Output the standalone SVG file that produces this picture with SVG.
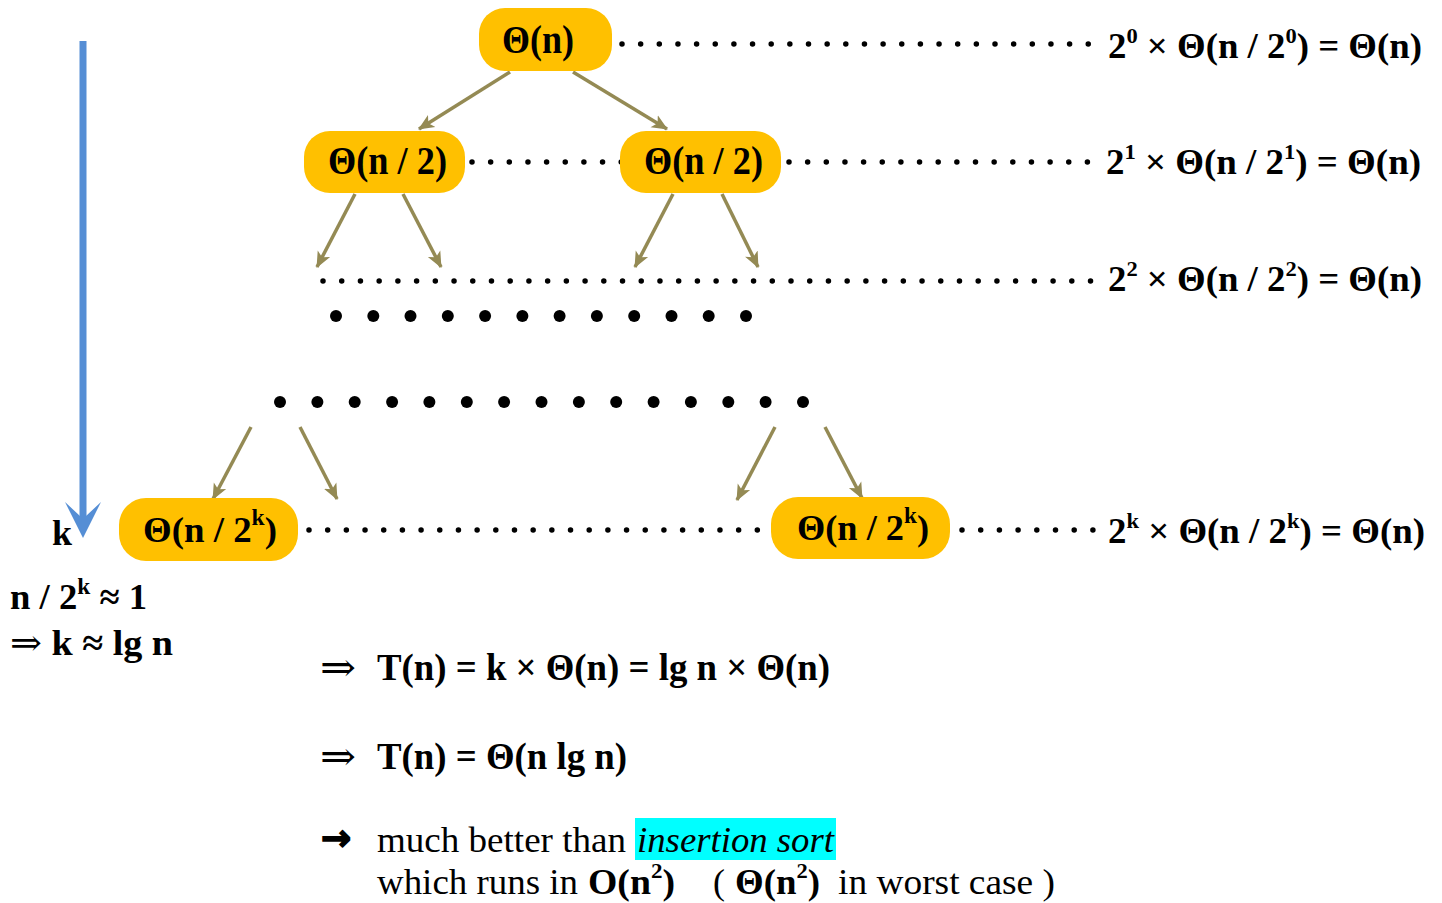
<svg xmlns="http://www.w3.org/2000/svg" width="1442" height="903" viewBox="0 0 1442 903">
<style>
.node rect { fill:#FFC000; }
.t { font-family:"Liberation Serif","DejaVu Serif",serif; font-weight:bold; fill:#000; }
.r { font-family:"Liberation Serif","DejaVu Serif",serif; font-weight:normal; fill:#000; }
.dots { stroke:#000; stroke-width:5.5; stroke-linecap:round; fill:none; stroke-dasharray:0 18.65; }
.edge { stroke:#948A54; stroke-width:3.5; fill:none; marker-end:url(#ah); }
.big { fill:#000; }
</style>
<defs>
<marker id="ah" markerUnits="userSpaceOnUse" viewBox="0 0 16 16" markerWidth="16" markerHeight="16" refX="15" refY="8" orient="auto">
<path d="M0,1 L16,8 L0,15 L4,8 z" fill="#948A54"/>
</marker>
</defs>
<rect width="1442" height="903" fill="#fff"/>

<g id="connectors">
<line class="dots" x1="622" y1="44" x2="1088.5" y2="44"/>
<line class="dots" x1="472" y1="162" x2="621.5" y2="162"/>
<line class="dots" x1="789" y1="162" x2="1088.5" y2="162"/>
<line class="dots" x1="323" y1="281" x2="1091.5" y2="281" style="stroke-dasharray:0 18.72"/>
<line class="dots" x1="309" y1="530" x2="757.5" y2="530" style="stroke-dasharray:0 18.68"/>
<line class="dots" x1="962" y1="530" x2="1093.5" y2="530" style="stroke-dasharray:0 18.7"/>
<path class="edge" d="M510,72 L419,129"/>
<path class="edge" d="M573,72 L667,129"/>
<path class="edge" d="M355,194 L317,267"/>
<path class="edge" d="M403,194 L441,267"/>
<path class="edge" d="M673,194 L635,267"/>
<path class="edge" d="M722,194 L758,267"/>
<path class="edge" d="M251,427 L213,499"/>
<path class="edge" d="M300,427 L337,499"/>
<path class="edge" d="M775,427 L737,500"/>
<path class="edge" d="M825,427 L862,498"/>
<rect x="79.5" y="41" width="7" height="478" fill="#558ED5"/>
<polygon points="83,538 65,502 80,516 86,516 101,502" fill="#558ED5"/>
</g>

<g id="dots-level3">
<circle class="big" cx="336" cy="316" r="6"/><circle class="big" cx="373.3" cy="316" r="6"/><circle class="big" cx="410.5" cy="316" r="6"/><circle class="big" cx="447.8" cy="316" r="6"/><circle class="big" cx="485.1" cy="316" r="6"/><circle class="big" cx="522.4" cy="316" r="6"/><circle class="big" cx="559.6" cy="316" r="6"/><circle class="big" cx="596.9" cy="316" r="6"/><circle class="big" cx="634.2" cy="316" r="6"/><circle class="big" cx="671.5" cy="316" r="6"/><circle class="big" cx="708.7" cy="316" r="6"/><circle class="big" cx="746" cy="316" r="6"/>
</g>
<g id="dots-level4">
<circle class="big" cx="280" cy="402" r="6"/><circle class="big" cx="317.4" cy="402" r="6"/><circle class="big" cx="354.7" cy="402" r="6"/><circle class="big" cx="392.1" cy="402" r="6"/><circle class="big" cx="429.4" cy="402" r="6"/><circle class="big" cx="466.8" cy="402" r="6"/><circle class="big" cx="504.1" cy="402" r="6"/><circle class="big" cx="541.5" cy="402" r="6"/><circle class="big" cx="578.9" cy="402" r="6"/><circle class="big" cx="616.2" cy="402" r="6"/><circle class="big" cx="653.6" cy="402" r="6"/><circle class="big" cx="690.9" cy="402" r="6"/><circle class="big" cx="728.3" cy="402" r="6"/><circle class="big" cx="765.6" cy="402" r="6"/><circle class="big" cx="803" cy="402" r="6"/>
</g>

<g id="node-root" class="node">
<rect x="479" y="8" width="133" height="63" rx="26"/>
<text class="t" x="502" y="53" font-size="40" textLength="72" lengthAdjust="spacingAndGlyphs">Θ(n)</text>
</g>
<g id="node-half-left" class="node">
<rect x="304" y="131" width="161" height="62" rx="26"/>
<text class="t" x="328" y="174" font-size="39" textLength="119" lengthAdjust="spacingAndGlyphs">Θ(n / 2)</text>
</g>
<g id="node-half-right" class="node">
<rect x="620" y="131" width="161" height="62" rx="26"/>
<text class="t" x="644" y="174" font-size="39" textLength="119" lengthAdjust="spacingAndGlyphs">Θ(n / 2)</text>
</g>
<g id="node-k-left" class="node">
<rect x="119" y="498" width="179" height="63" rx="27"/>
<text class="t" x="143" y="542" font-size="36" textLength="134" lengthAdjust="spacingAndGlyphs">Θ(n / 2<tspan font-size="23" dy="-17">k</tspan><tspan dy="17">)</tspan></text>
</g>
<g id="node-k-right" class="node">
<rect x="771" y="497" width="179" height="62" rx="27"/>
<text class="t" x="797" y="540" font-size="36" textLength="132" lengthAdjust="spacingAndGlyphs">Θ(n / 2<tspan font-size="23" dy="-17">k</tspan><tspan dy="17">)</tspan></text>
</g>

<g id="level-sums">
<text class="t" x="1108" y="58" font-size="36" textLength="314" lengthAdjust="spacingAndGlyphs">2<tspan font-size="22" dy="-15">0</tspan><tspan dy="15"> × Θ(n / 2</tspan><tspan font-size="22" dy="-15">0</tspan><tspan dy="15">) = Θ(n)</tspan></text>
<text class="t" x="1106" y="174" font-size="36" textLength="315" lengthAdjust="spacingAndGlyphs">2<tspan font-size="22" dy="-15">1</tspan><tspan dy="15"> × Θ(n / 2</tspan><tspan font-size="22" dy="-15">1</tspan><tspan dy="15">) = Θ(n)</tspan></text>
<text class="t" x="1108" y="291" font-size="36" textLength="314" lengthAdjust="spacingAndGlyphs">2<tspan font-size="22" dy="-15">2</tspan><tspan dy="15"> × Θ(n / 2</tspan><tspan font-size="22" dy="-15">2</tspan><tspan dy="15">) = Θ(n)</tspan></text>
<text class="t" x="1108" y="543" font-size="36" textLength="317" lengthAdjust="spacingAndGlyphs">2<tspan font-size="22" dy="-15">k</tspan><tspan dy="15"> × Θ(n / 2</tspan><tspan font-size="22" dy="-15">k</tspan><tspan dy="15">) = Θ(n)</tspan></text>
</g>

<g id="depth-notes">
<text class="t" x="52" y="545" font-size="36">k</text>
<text class="t" x="10" y="609" font-size="36" textLength="137" lengthAdjust="spacingAndGlyphs">n / 2<tspan font-size="23" dy="-15">k</tspan><tspan dy="15"> ≈ 1</tspan></text>
<text class="t" x="10" y="655" font-size="36" textLength="163" lengthAdjust="spacingAndGlyphs"><tspan class="r">⇒</tspan> k ≈ lg n</text>
</g>

<g id="conclusion">
<text class="r" x="320" y="681" font-size="40" textLength="36" lengthAdjust="spacingAndGlyphs">⇒</text>
<text class="t" x="377" y="680" font-size="38" textLength="453" lengthAdjust="spacingAndGlyphs">T(n) = k × Θ(n) = lg n × Θ(n)</text>
<text class="r" x="320" y="770" font-size="40" textLength="36" lengthAdjust="spacingAndGlyphs">⇒</text>
<text class="t" x="377" y="769" font-size="38" textLength="250" lengthAdjust="spacingAndGlyphs">T(n) = Θ(n lg n)</text>
<text x="321" y="850" font-size="36" font-family="DejaVu Sans, sans-serif" font-weight="bold" stroke="#000" stroke-width="1.6">→</text>
<text class="r" x="377" y="852" font-size="36" textLength="249" lengthAdjust="spacingAndGlyphs">much better than</text>
<rect x="635" y="818" width="201" height="42" fill="#00FFFF"/>
<text class="r" x="637" y="852" font-size="36" font-style="italic" textLength="197" lengthAdjust="spacingAndGlyphs">insertion sort</text>
<text class="r" x="377" y="894" font-size="36" textLength="201" lengthAdjust="spacingAndGlyphs">which runs in</text>
<text class="t" x="588" y="894" font-size="36" textLength="87" lengthAdjust="spacingAndGlyphs">O(n<tspan font-size="22" dy="-16">2</tspan><tspan dy="16">)</tspan></text>
<text class="r" x="713" y="894" font-size="36">(</text>
<text class="t" x="735" y="894" font-size="36" textLength="85" lengthAdjust="spacingAndGlyphs">Θ(n<tspan font-size="22" dy="-16">2</tspan><tspan dy="16">)</tspan></text>
<text class="r" x="838" y="894" font-size="36" textLength="217" lengthAdjust="spacingAndGlyphs">in worst case )</text>
</g>
</svg>
